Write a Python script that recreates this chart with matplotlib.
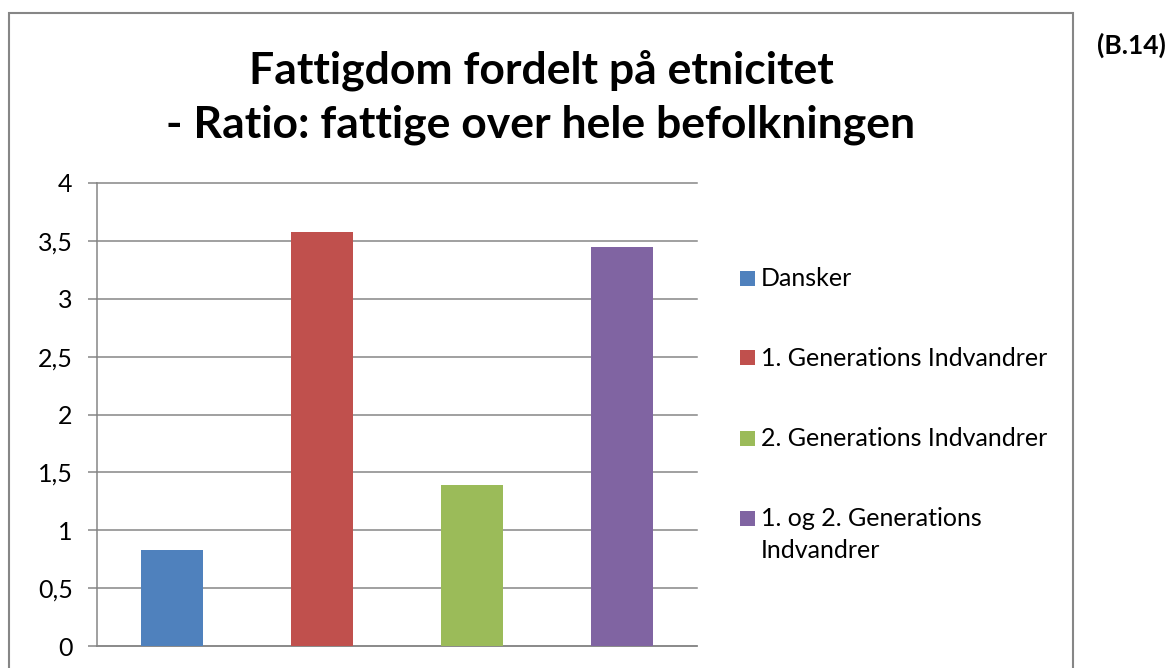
import matplotlib.pyplot as plt
from matplotlib.patches import Rectangle
from matplotlib.ticker import FuncFormatter

# Data
series = ["Dansker", "1. Generations Indvandrer", "2. Generations Indvandrer",
          "1. og 2. Generations\nIndvandrer"]
ratios = [0.83, 3.58, 1.39, 3.45]
colors = ["#4F81BD", "#C0504D", "#9BBB59", "#8064A2"]
yticks = [0, 0.5, 1, 1.5, 2, 2.5, 3, 3.5, 4]

plt.rcParams['font.family'] = ['Lato', 'DejaVu Sans']
gray = '#868686'
W, H = 1171, 668

fig = plt.figure(figsize=(W / 100, H / 100), dpi=100)
ax = fig.add_axes([97 / W, 1 - 646 / H, 600 / W, 463 / H])

for i, (name, val, col) in enumerate(zip(series, ratios, colors)):
    ax.bar(i, val, width=0.41, color=col, label=name, zorder=3)

ax.set_xlim(-0.5, 3.5)
ax.set_ylim(0, 4)
ax.set_yticks(yticks)
ax.yaxis.set_major_formatter(FuncFormatter(lambda v, p: f"{v:g}".replace('.', ',')))
ax.set_xticks([])
ax.grid(axis='y', color=gray, linewidth=1.1, zorder=0)
for line in ax.get_ygridlines():
    line.set_clip_on(False)
for s in ['top', 'right']:
    ax.spines[s].set_visible(False)
for s in ['left', 'bottom']:
    ax.spines[s].set_color(gray)
    ax.spines[s].set_linewidth(1.1)
ax.tick_params(axis='y', length=6.5, width=1.1, color=gray, labelsize=18, pad=11)

# Legend on the right, drawn item by item so the marker sits on the first line
for i, (name, col) in enumerate(zip(series, colors)):
    yc = 1 - (278 + 80 * i) / H
    fig.add_artist(Rectangle((740 / W, yc - 7.5 / H), 15 / W, 15 / H, transform=fig.transFigure,
                             facecolor=col, edgecolor='none'))
    fig.text(761 / W, yc + 11 / H, name, ha='left', va='top', fontsize=18, linespacing=1.45)

# Title
fig.text(541 / W, 1 - 97 / H, "Fattigdom fordelt på etnicitet\n- Ratio: fattige over hele befolkningen",
         ha='center', va='center', fontsize=32, fontweight='bold', linespacing=1.42)

# Chart frame and label outside it
fig.add_artist(Rectangle((9 / W, -0.1), (1073 - 9) / W, 1.1 - 13 / H, transform=fig.transFigure,
                         fill=False, edgecolor=gray, linewidth=1.5))
fig.text(1131 / W, 1 - 45 / H, "(B.14)", ha='center', va='center', fontsize=19, fontweight='bold')

fig.savefig("out.png", dpi=100)
